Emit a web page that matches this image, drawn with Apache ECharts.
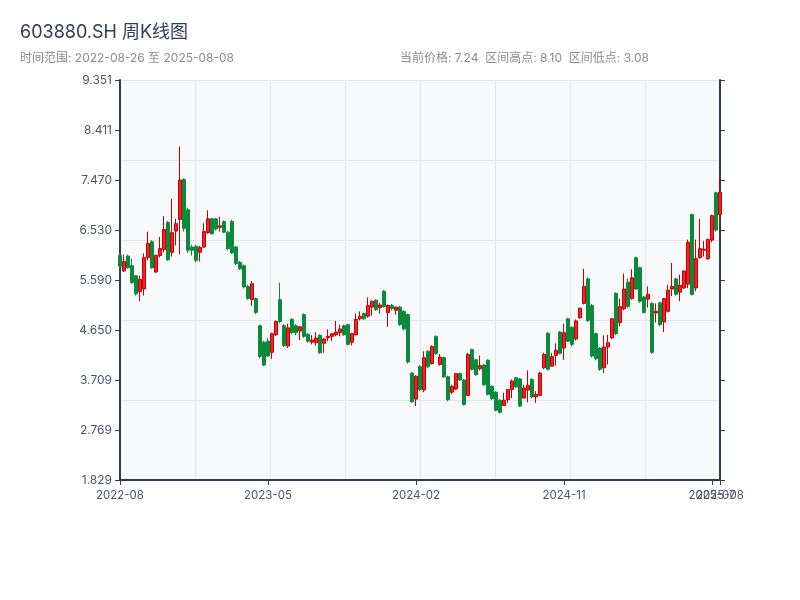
<!DOCTYPE html>
<html>
<head>
<meta charset="utf-8">
<script src="https://cdn.jsdelivr.net/npm/echarts@6/dist/echarts.min.js"></script>
<style>html,body{margin:0;padding:0;background:#fff;}#chart{width:800px;height:600px;}</style>
</head>
<body>
<div id="chart"></div>
<script>
const dates = [
'2022-08-26','2022-09-02','2022-09-09','2022-09-16','2022-09-23','2022-09-30','2022-10-14','2022-10-21','2022-10-28','2022-11-04',
'2022-11-11','2022-11-18','2022-11-25','2022-12-02','2022-12-09','2022-12-16','2022-12-23','2022-12-30','2023-01-06','2023-01-13',
'2023-01-20','2023-02-03','2023-02-10','2023-02-17','2023-02-24','2023-03-03','2023-03-10','2023-03-17','2023-03-24','2023-03-31',
'2023-04-07','2023-04-14','2023-04-21','2023-04-28','2023-05-05','2023-05-12','2023-05-19','2023-05-26','2023-06-02','2023-06-09',
'2023-06-16','2023-06-23','2023-06-30','2023-07-07','2023-07-14','2023-07-21','2023-07-28','2023-08-04','2023-08-11','2023-08-18',
'2023-08-25','2023-09-01','2023-09-08','2023-09-15','2023-09-22','2023-09-29','2023-10-13','2023-10-20','2023-10-27','2023-11-03',
'2023-11-10','2023-11-17','2023-11-24','2023-12-01','2023-12-08','2023-12-15','2023-12-22','2023-12-29','2024-01-05','2024-01-12',
'2024-01-19','2024-01-26','2024-02-02','2024-02-09','2024-02-23','2024-03-01','2024-03-08','2024-03-15','2024-03-22','2024-03-29',
'2024-04-05','2024-04-12','2024-04-19','2024-04-26','2024-05-03','2024-05-10','2024-05-17','2024-05-24','2024-05-31','2024-06-07',
'2024-06-14','2024-06-21','2024-06-28','2024-07-05','2024-07-12','2024-07-19','2024-07-26','2024-08-02','2024-08-09','2024-08-16',
'2024-08-23','2024-08-30','2024-09-06','2024-09-13','2024-09-20','2024-09-27','2024-10-04','2024-10-11','2024-10-18','2024-10-25',
'2024-11-01','2024-11-08','2024-11-15','2024-11-22','2024-11-29','2024-12-06','2024-12-13','2024-12-20','2024-12-27','2025-01-03',
'2025-01-10','2025-01-17','2025-01-24','2025-01-31','2025-02-07','2025-02-14','2025-02-21','2025-02-28','2025-03-07','2025-03-14',
'2025-03-21','2025-03-28','2025-04-04','2025-04-11','2025-04-18','2025-04-25','2025-05-02','2025-05-09','2025-05-16','2025-05-23',
'2025-05-30','2025-06-06','2025-06-13','2025-06-20','2025-06-27','2025-07-04','2025-07-11','2025-07-18','2025-07-25','2025-08-01',
'2025-08-08'
];

const opens = [
6.05,5.76,6.04,5.86,5.67,5.37,5.42,6.01,6.31,5.74,
6.05,6.16,6.67,6.11,6.51,6.73,7.48,6.91,6.21,6.22,
6.11,6.21,6.48,6.74,6.74,6.58,6.69,6.49,6.69,6.21,
5.92,5.86,5.47,5.22,5.24,4.73,4.42,4.44,4.23,4.56,
5.22,4.73,4.35,4.85,4.73,4.63,4.94,4.57,4.42,4.41,
4.55,4.40,4.50,4.53,4.56,4.60,4.73,4.75,4.42,4.56,
4.86,4.96,4.91,5.08,5.21,5.07,5.38,4.98,5.11,5.02,
5.08,5.00,4.94,3.84,3.35,3.96,3.52,4.25,4.02,4.53,
4.00,4.13,3.77,3.48,3.54,3.83,3.71,3.42,4.28,4.09,
3.92,3.99,4.08,3.59,3.48,3.33,3.23,3.34,3.53,3.75,
3.73,3.37,3.52,3.72,3.39,3.42,3.94,4.59,3.97,4.17,
4.61,4.31,4.86,4.70,4.48,4.88,5.15,5.61,5.11,4.58,
4.31,3.94,4.33,4.50,5.34,4.79,5.05,5.55,5.24,6.01,
5.82,5.27,5.23,5.15,4.97,5.16,4.80,5.00,5.42,5.61,
5.36,5.44,5.51,6.82,5.44,6.01,6.15,5.99,6.34,7.23,
6.82
];
const closes = [
5.85,5.94,5.82,5.54,5.33,5.60,6.01,6.28,5.82,6.05,
6.18,6.54,5.97,6.48,6.65,7.47,6.56,6.15,6.15,5.96,
6.20,6.50,6.74,6.46,6.55,6.61,6.49,6.18,6.10,5.90,
5.80,5.46,5.24,5.52,4.98,4.15,3.99,4.16,4.58,4.81,
4.81,4.36,4.69,4.60,4.60,4.71,4.53,4.44,4.46,4.50,
4.22,4.48,4.53,4.58,4.61,4.67,4.56,4.38,4.58,4.85,
4.91,4.86,5.11,5.19,5.03,5.12,5.09,5.11,5.05,5.08,
4.75,4.67,4.05,3.30,3.78,3.53,4.13,3.96,4.34,4.21,
4.14,3.77,3.34,3.59,3.83,3.71,3.25,4.19,3.91,3.81,
3.98,3.62,3.44,3.36,3.14,3.10,3.33,3.53,3.69,3.58,
3.22,3.56,3.61,3.39,3.44,3.84,4.19,3.91,4.15,4.27,
4.21,4.60,4.44,4.38,4.82,5.06,5.47,4.83,4.16,4.11,
3.91,4.33,4.41,4.86,4.58,5.09,5.42,5.09,5.63,5.42,
5.19,4.98,5.32,4.23,5.00,4.75,5.24,5.40,5.47,5.32,
5.49,5.76,6.30,5.32,5.99,6.18,6.17,6.35,6.80,6.53,
7.24
];
const lows = [
5.80,5.74,5.80,5.52,5.30,5.19,5.30,5.96,5.80,5.72,
6.01,6.11,5.95,6.03,6.24,6.07,6.50,6.10,6.05,5.92,
5.94,6.19,6.46,6.44,6.52,6.50,6.47,6.15,6.08,5.87,
5.78,5.43,5.22,5.10,4.95,4.12,3.97,4.14,4.11,4.54,
4.78,4.33,4.31,4.57,4.55,4.46,4.50,4.41,4.38,4.36,
4.20,4.22,4.44,4.44,4.53,4.53,4.54,4.36,4.36,4.55,
4.83,4.84,4.88,4.92,5.01,4.96,5.07,4.71,5.02,4.94,
4.73,4.64,4.02,3.28,3.22,3.50,3.48,3.93,4.00,4.18,
3.98,3.75,3.31,3.44,3.52,3.69,3.23,3.41,3.89,3.79,
3.89,3.60,3.42,3.33,3.12,3.08,3.22,3.28,3.37,3.56,
3.20,3.36,3.29,3.37,3.28,3.41,3.91,3.89,3.96,3.98,
4.19,4.09,4.42,4.34,4.45,4.86,5.13,4.80,4.13,4.08,
3.88,3.84,4.00,4.48,4.55,4.72,5.02,5.06,5.22,5.40,
5.16,4.96,5.07,4.20,4.79,4.72,4.61,4.98,5.29,5.30,
5.19,5.42,5.44,5.30,5.38,5.99,6.03,5.97,6.30,6.50,
6.57
];
const highs = [
6.10,6.07,6.07,5.99,5.68,5.67,6.09,6.50,6.34,6.07,
6.40,6.79,6.70,7.12,6.74,8.10,7.50,6.95,6.25,6.25,
6.23,6.66,6.90,6.76,6.76,6.78,6.71,6.51,6.72,6.23,
5.95,5.88,5.50,5.57,5.26,4.75,4.45,4.50,4.60,4.83,
5.54,4.76,4.77,4.87,4.76,4.73,4.96,4.59,4.55,4.61,
4.57,4.50,4.66,4.59,4.82,4.75,4.75,4.77,4.60,4.96,
5.00,4.98,5.26,5.20,5.23,5.16,5.40,5.13,5.14,5.09,
5.10,5.02,4.96,3.86,3.80,3.99,4.25,4.27,4.36,4.55,
4.20,4.15,3.79,3.62,3.84,3.85,3.73,4.22,4.30,4.11,
4.17,4.01,4.10,3.61,3.50,3.35,3.47,3.54,3.72,3.77,
3.75,3.62,3.89,3.74,3.50,3.86,4.22,4.61,4.22,4.40,
4.63,4.77,4.88,4.72,4.85,5.07,5.80,5.64,5.14,4.60,
4.33,4.55,4.56,4.88,5.36,5.24,5.71,5.62,5.79,6.03,
5.84,5.29,5.47,5.17,5.15,5.18,5.25,5.50,5.91,5.63,
5.69,5.77,6.35,6.84,6.35,6.74,6.32,6.37,6.82,7.25,
7.48
];

const yTickLabels = ['1.829','2.769','3.709','4.650','5.590','6.530','7.470','8.411','9.351'];
const yTicks = yTickLabels.map(Number);
const titleText = '603880.SH 周K线图';
const subText = '时间范围: 2022-08-26 至 2025-08-08';
const infoText = '当前价格: 7.24  区间高点: 8.10  区间低点: 3.08';

const candleData = opens.map((o, i) => [o, closes[i], lows[i], highs[i]]);
const lastIndex = dates.length - 1;

const chart = echarts.init(document.getElementById('chart'));
const axisColor = '#2c3e50';
const labelColor = '#4a5568';
const gridLineColor = '#e2e5ea';
const fontFamily = "Inter, 'Noto Sans CJK SC', sans-serif";
const xLabelStyle = { color: labelColor, fontSize: 11.5, margin: 10, fontFamily: fontFamily, formatter: v => v.slice(0, 7) };
chart.setOption({
  animation: false,
  backgroundColor: '#ffffff',
  textStyle: { fontFamily: fontFamily },
  title: {
    text: titleText,
    subtext: subText,
    left: 15,
    top: 19,
    itemGap: 10,
    textStyle: { fontSize: 18, fontWeight: 'normal', color: axisColor, fontFamily: fontFamily },
    subtextStyle: { fontSize: 12, color: '#8c8c8c', fontFamily: fontFamily }
  },
  graphic: [{
    type: 'text',
    left: 400,
    top: 52,
    style: { text: infoText, fontSize: 12, fill: '#8c8c8c', fontFamily: fontFamily }
  }],
  grid: { left: 120, right: 80, top: 80, bottom: 120, show: true, backgroundColor: '#f8f9fb', borderWidth: 0 },
  xAxis: [{
    type: 'category',
    data: dates,
    boundaryGap: false,
    axisLine: { lineStyle: { color: axisColor, width: 2 } },
    axisTick: { interval: (i) => i % 37 === 0, lineStyle: { color: axisColor } },
    axisLabel: Object.assign({ interval: (i) => i % 37 === 0 }, xLabelStyle),
    splitLine: { show: false }
  }, {
    type: 'value', min: 0, max: 8, interval: 1, position: 'top',
    axisLine: { show: false }, axisTick: { show: false }, axisLabel: { show: false },
    splitLine: { show: true, lineStyle: { color: gridLineColor, width: 1 } }
  }, {
    type: 'category',
    data: dates,
    boundaryGap: false,
    position: 'bottom',
    axisLine: { show: false },
    axisTick: { show: true, interval: (i) => i === lastIndex, lineStyle: { color: axisColor } },
    axisLabel: Object.assign({ interval: (i) => i === lastIndex }, xLabelStyle),
    splitLine: { show: false }
  }],
  yAxis: [{
    type: 'value', min: 1.829, max: 9.351, position: 'left',
    axisLine: { show: true, lineStyle: { color: axisColor, width: 2 } },
    axisTick: { show: true, customValues: yTicks, lineStyle: { color: axisColor } },
    axisLabel: { customValues: yTicks, color: labelColor, fontSize: 12, fontFamily: fontFamily, formatter: v => v.toFixed(3) },
    splitLine: { show: false }
  }, {
    type: 'value', min: 1.829, max: 9.351, position: 'right',
    axisLine: { show: true, lineStyle: { color: axisColor, width: 2 } },
    axisTick: { show: true, customValues: yTicks, lineStyle: { color: axisColor } },
    axisLabel: { show: false },
    splitLine: { show: false }
  }, {
    type: 'value', min: 0, max: 5, interval: 1, position: 'right',
    axisLine: { show: false }, axisTick: { show: false }, axisLabel: { show: false },
    splitLine: { show: true, lineStyle: { color: gridLineColor, width: 1 } }
  }],
  series: [{
    type: 'candlestick',
    xAxisIndex: 0,
    yAxisIndex: 0,
    data: candleData,
    barWidth: 3,
    itemStyle: {
      color: '#e8262e', borderColor: '#c80000',
      color0: '#0b8a3c', borderColor0: '#0b8a3c',
      borderWidth: 1
    }
  }]
});
</script>
</body>
</html>
